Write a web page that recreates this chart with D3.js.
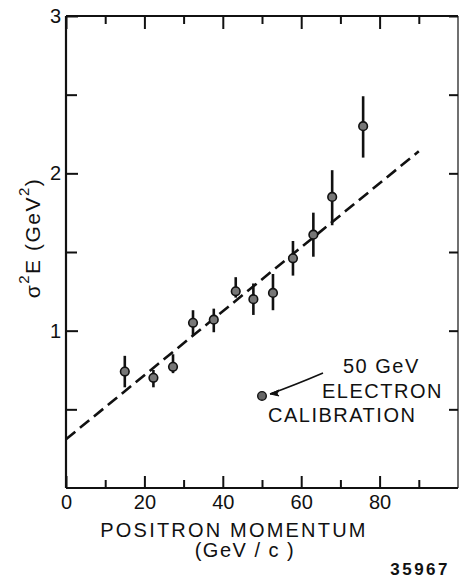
<!DOCTYPE html>
<html><head><meta charset="utf-8">
<script src="https://cdn.jsdelivr.net/npm/d3@7"></script>
<style>
body{margin:0;background:#fff;}
svg{display:block;}
text{font-family:"Liberation Sans","DejaVu Sans",sans-serif;fill:#111;}
</style></head>
<body>
<svg id="c" width="461" height="579"></svg>
<script>
// ---- data ----
const momentum = [15, 22.3, 27.3, 32.4, 37.7, 43.3, 47.8, 52.8, 57.9, 63.1, 67.9, 75.8];
const sigma2E  = [0.74, 0.70, 0.77, 1.05, 1.07, 1.25, 1.20, 1.24, 1.46, 1.61, 1.85, 2.30];
const errLow   = [0.64, 0.64, 0.73, 0.97, 0.99, 1.21, 1.10, 1.13, 1.35, 1.47, 1.67, 2.10];
const errHigh  = [0.84, 0.75, 0.85, 1.13, 1.14, 1.34, 1.30, 1.36, 1.57, 1.75, 2.02, 2.49];
const fitX = [0, 90];
const fitY = [0.31, 2.14];
const calibX = [50];
const calibY = [0.585];
const xMajor = [0, 20, 40, 60, 80];
const xMinor = [10, 30, 50, 70, 90];
const yMajor = [1, 2, 3];
const yMinor = [0.5, 1.5, 2.5];
const xTitle = "POSITRON MOMENTUM";
const xUnit = "(GeV / c )";
const figId = "35967";

const svg = d3.select("#c");
const x = d3.scaleLinear().domain([0, 100]).range([66, 458]);
const y = d3.scaleLinear().domain([0, 3]).range([488, 16]);

// frame
const frame = svg.append("g").attr("fill","none").attr("stroke","#111");
frame.append("line").attr("x1",x(0)).attr("x2",x(0)).attr("y1",y(0)).attr("y2",y(3)).attr("stroke-width",2.2);
frame.append("line").attr("x1",x(0)).attr("x2",x(100)).attr("y1",y(3)).attr("y2",y(3)).attr("stroke-width",2.2);
frame.append("line").attr("x1",x(0)).attr("x2",x(100)).attr("y1",y(0)).attr("y2",y(0)).attr("stroke-width",2.2);
frame.append("line").attr("x1",x(100)).attr("x2",x(100)).attr("y1",y(0)).attr("y2",y(3)).attr("stroke-width",1.2);

function styleAxis(g){
  g.select(".domain").remove();
  g.selectAll(".tick line").attr("stroke","#111").attr("stroke-width",2);
  g.selectAll(".tick text").attr("font-size",20).attr("fill","#111")
    .style("font-family",'"Liberation Sans","DejaVu Sans",sans-serif');
}
// bottom axis
svg.append("g").attr("transform",`translate(0,${y(0)})`)
  .call(d3.axisBottom(x).tickValues(xMajor).tickSize(-12).tickPadding(7).tickFormat(d3.format("d")))
  .call(styleAxis);
svg.append("g").attr("transform",`translate(0,${y(0)})`)
  .call(d3.axisBottom(x).tickValues(xMinor).tickSize(-8).tickFormat(""))
  .call(styleAxis);
// top axis
svg.append("g").attr("transform",`translate(0,${y(3)})`)
  .call(d3.axisTop(x).tickValues(xMajor).tickSize(-13).tickFormat(""))
  .call(styleAxis);
svg.append("g").attr("transform",`translate(0,${y(3)})`)
  .call(d3.axisTop(x).tickValues(xMinor).tickSize(-8).tickFormat(""))
  .call(styleAxis);
// left axis
svg.append("g").attr("transform",`translate(${x(0)},0)`)
  .call(d3.axisLeft(y).tickValues(yMajor).tickSize(-12).tickPadding(5).tickFormat(d3.format("d")))
  .call(styleAxis);
svg.append("g").attr("transform",`translate(${x(0)},0)`)
  .call(d3.axisLeft(y).tickValues(yMinor).tickSize(-11).tickFormat(""))
  .call(styleAxis);
// right axis
svg.append("g").attr("transform",`translate(${x(100)},0)`)
  .call(d3.axisRight(y).tickValues(yMajor.concat(yMinor)).tickSize(-9).tickFormat(""))
  .call(styleAxis);

// fit line
svg.append("path")
  .datum(fitX.map((v,i)=>[v,fitY[i]]))
  .attr("fill","none").attr("stroke","#111").attr("stroke-width",2.6)
  .attr("stroke-dasharray","12,6")
  .attr("d", d3.line().x(d=>x(d[0])).y(d=>y(d[1])));

// error bars
const pts = momentum.map((m,i)=>({m, v:sigma2E[i], lo:errLow[i], hi:errHigh[i]}));
svg.append("g").selectAll("line").data(pts).join("line")
  .attr("x1",d=>x(d.m)).attr("x2",d=>x(d.m))
  .attr("y1",d=>y(d.lo)).attr("y2",d=>y(d.hi))
  .attr("stroke","#111").attr("stroke-width",2.6);
svg.append("g").selectAll("circle").data(pts).join("circle")
  .attr("cx",d=>x(d.m)).attr("cy",d=>y(d.v)).attr("r",4.3)
  .attr("fill","#777").attr("stroke","#111").attr("stroke-width",1.6);

// calibration point
svg.append("g").selectAll("circle").data(calibX.map((c,i)=>[c,calibY[i]])).join("circle")
  .attr("cx",d=>x(d[0])).attr("cy",d=>y(d[1])).attr("r",4.3)
  .attr("fill","#666").attr("stroke","#111").attr("stroke-width",1.4);

// annotation arrow
const ax0 = x(calibX[0]) + 8, ay0 = y(calibY[0]) - 2;
svg.append("path")
  .attr("d",`M323,373 Q295,385 ${ax0},${ay0}`)
  .attr("fill","none").attr("stroke","#111").attr("stroke-width",1.6);
svg.append("path")
  .attr("d",`M${ax0},${ay0} l9,-4 l-2,4 l2,2 z`)
  .attr("fill","#111").attr("stroke","#111").attr("stroke-width",1);

const ann = svg.append("g").attr("font-size",20).attr("letter-spacing",1.5);
ann.append("text").attr("x",343).attr("y",373).text("50 GeV");
ann.append("text").attr("x",322).attr("y",398).text("ELECTRON");
ann.append("text").attr("x",268).attr("y",422).text("CALIBRATION");

// axis titles
svg.append("text").attr("x",234).attr("y",537).attr("text-anchor","middle")
  .attr("font-size",20).attr("letter-spacing",2.2).text(xTitle);
svg.append("text").attr("x",245).attr("y",557).attr("text-anchor","middle")
  .attr("font-size",20).attr("letter-spacing",1.5).text(xUnit);

// y title (rotated)
const yt = svg.append("text").attr("transform","translate(40,238) rotate(-90)")
  .attr("text-anchor","middle").attr("font-size",21).attr("letter-spacing",1.5);
yt.append("tspan").text("σ");
yt.append("tspan").attr("dy",-11).attr("font-size",15).text("2");
yt.append("tspan").attr("dy",11).text("E (GeV");
yt.append("tspan").attr("dy",-11).attr("font-size",15).text("2");
yt.append("tspan").attr("dy",11).text(")");

// figure id
svg.append("text").attr("x",450).attr("y",575).attr("text-anchor","end")
  .attr("font-size",17).attr("font-weight","bold").attr("letter-spacing",2.5).text(figId);
</script>
</body></html>
